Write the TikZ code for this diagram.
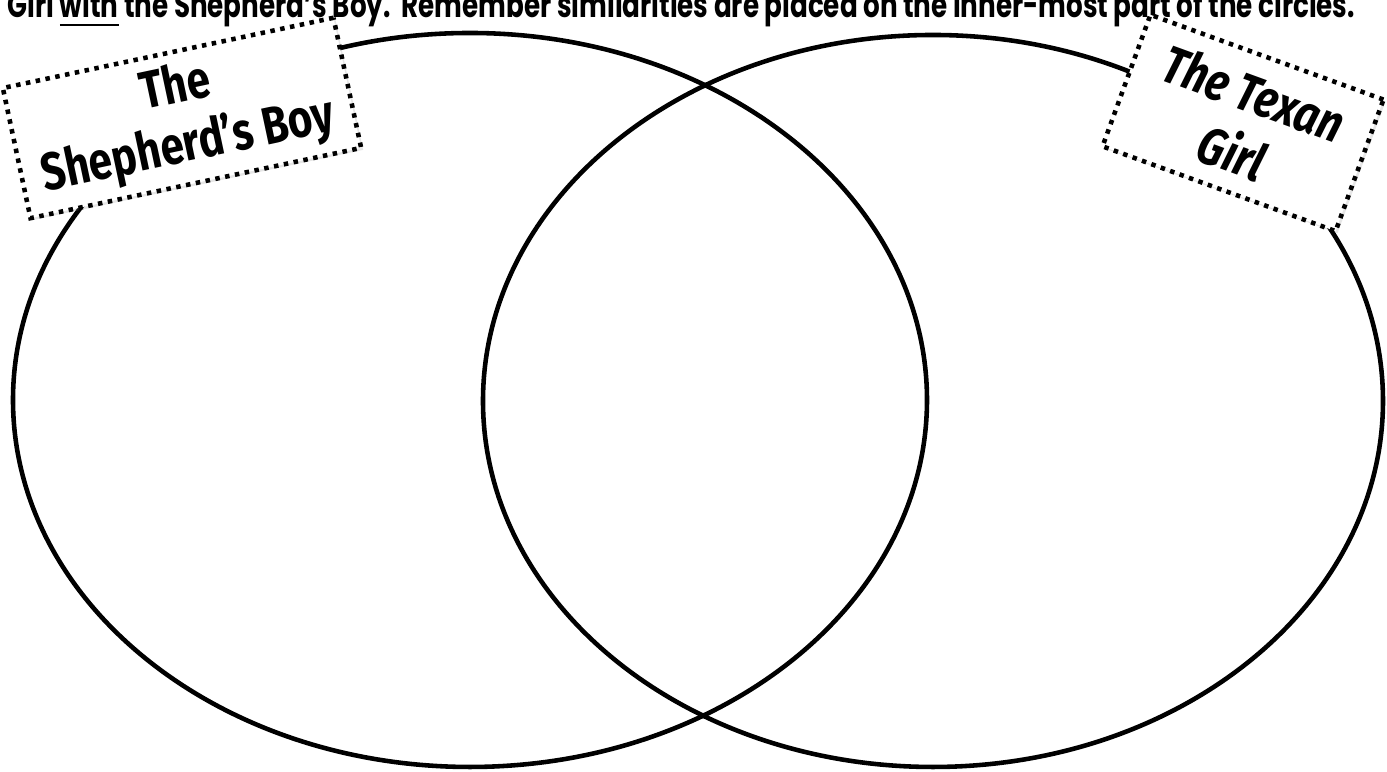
\documentclass[tikz,border=0pt]{standalone}
\usepackage{fontspec}
\setmainfont{Poppins}
\newfontfamily\tagfont[FakeStretch=0.8]{Fira Sans}
\usetikzlibrary{shapes.geometric, shadows}

\begin{document}
\begin{tikzpicture}[
    ring/.style={draw, ellipse, line width=1.3pt, inner sep=0pt},
    tag/.style={draw, fill=white, line width=1.3pt, dash pattern=on 0.045cm off 0.055cm,
      align=center, inner sep=2pt, font=\tagfont\bfseries\fontsize{15}{17}\selectfont,
      drop shadow={opacity=0.2, shadow xshift=0.02cm, shadow yshift=-0.02cm}}]
    \useasboundingbox (0,0) rectangle (13.87,7.72);
    \node[anchor=base west, inner sep=0pt, yscale=1.35, transform shape,
        font=\bfseries\fontsize{7.45}{9}\selectfont] (note) at (0.07,7.54)
        {Girl \underline{with} the Shepherd’s Boy.\ \ Remember similarities are placed on the inner-most part of the circles.};
    \node[ring, minimum width=9.14cm, minimum height=7.34cm] (boyset) at (4.70,3.72) {};
    \node[ring, minimum width=9.00cm, minimum height=7.32cm] (girlset) at (9.33,3.71) {};
    \node[tag, rotate=12, minimum width=3.38cm, minimum height=1.33cm] (boytag) at (1.82,6.54) {The\\Shepherd’s Boy};
    \node[tag, rotate=-20, minimum width=2.48cm, minimum height=1.40cm,
        font=\tagfont\bfseries\itshape\fontsize{15}{18}\selectfont] (girltag) at (12.43,6.49) {The Texan\\Girl};
\end{tikzpicture}
\end{document}
